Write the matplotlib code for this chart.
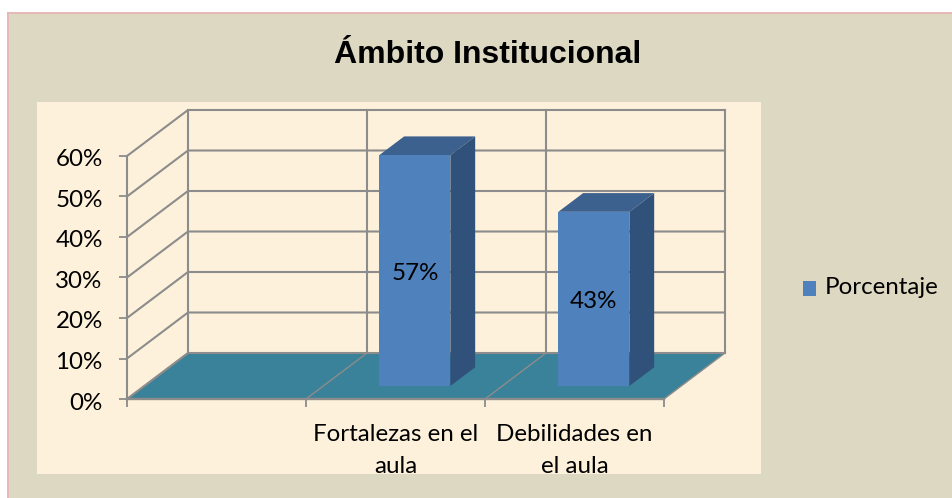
import matplotlib
matplotlib.use('Agg')
import matplotlib.pyplot as plt
from matplotlib.patches import Rectangle, Polygon
from matplotlib.transforms import ScaledTranslation

categories = ['', 'Fortalezas en el\naula', 'Debilidades en\nel aula']
values = [None, 57, 43]
value_labels = ['', '57%', '43%']
y_ticks = [0, 10, 20, 30, 40, 50, 60]
series_name = 'Porcentaje'
title = 'Ámbito Institucional'

W, H = 953, 498
BAR = '#4F81BD'
TOP = '#3C618F'
SIDE = '#30527A'
FLOOR = '#3A8299'
GRID = '#8C8C8C'
PANEL = '#DDD8C2'
EDGE = '#E6B9B8'
FONT = 17.4

plt.rcParams['font.family'] = ['Lato', 'DejaVu Sans']

fig = plt.figure(figsize=(W / 100, H / 100), dpi=100, facecolor='white')


def box(x0, y0, x1, y1):
    return [x0 / W, 1 - y1 / H, (x1 - x0) / W, (y1 - y0) / H]


def panel(x0, y0, x1, y1, color, z):
    fig.add_artist(Rectangle((x0 / W, 1 - y1 / H), (x1 - x0) / W, (y1 - y0) / H,
                             transform=fig.transFigure, facecolor=color, edgecolor='none', zorder=z))


# pink edge on the left and top, then the outer panel, then the cream picture
panel(7, 12, W, H, EDGE, -3)
panel(9, 14, W, H, PANEL, -2)
panel(37, 102, 761, 474, '#FDF1DB', -1)

# axes = front plane of the box
ax = fig.add_axes(box(127, 156, 664, 399))
ax.set_xlim(0, len(categories))
ax.set_ylim(0, 60)
ax.patch.set_alpha(0)
for s in ax.spines.values():
    s.set_visible(False)

# oblique offset of the full depth, in data units
DX = 61 / 179
DY = 46 / 243 * 60


def proj(x, y, t):
    return (x + DX * t, y + DY * t)


n = len(categories)
ax.add_patch(Polygon([proj(0, 0, 0), proj(n, 0, 0), proj(n, 0, 1), proj(0, 0, 1)],
                     facecolor=FLOOR, edgecolor='none', clip_on=False, zorder=1))

for v in y_ticks:
    xs, ys = zip(proj(0, v, 0), proj(0, v, 1), proj(n, v, 1))
    ax.plot(xs, ys, color=GRID, lw=1.5, clip_on=False, zorder=2)
for i in range(n + 1):
    xs, ys = zip(proj(i, 0, 1), proj(i, 60, 1))
    ax.plot(xs, ys, color=GRID, lw=1.5, clip_on=False, zorder=2)
    xs, ys = zip(proj(i, 0, 0), proj(i, 0, 1))
    ax.plot(xs, ys, color=GRID, lw=1.0, clip_on=False, zorder=2)
ax.plot([0, n], [0, 0], color=GRID, lw=1.7, clip_on=False, zorder=2)
ax.plot([0, 0], [0, 60], color=GRID, lw=1.5, clip_on=False, zorder=2)

ax.set_xticks(range(n + 1))
ax.set_xticklabels([])
ax.set_yticks(y_ticks)
ax.set_yticklabels([f'{v}%' for v in y_ticks], fontsize=FONT, color='black')
ax.tick_params(axis='both', color=GRID, width=1.3, length=5.5)
ax.tick_params(axis='y', pad=12)
# the percent labels sit a little under their ticks
shift = ScaledTranslation(0, -2 / 100, fig.dpi_scale_trans)
for lab in ax.get_yticklabels():
    lab.set_transform(lab.get_transform() + shift)

# bars
T0, T1 = 0.283, 0.69
LEFT, WIDTH = 0.313, 0.397
for i, v in enumerate(values):
    if v is None:
        continue
    l, r = i + LEFT, i + LEFT + WIDTH
    ax.add_patch(Polygon([proj(l, 0, T0), proj(r, 0, T0), proj(r, v, T0), proj(l, v, T0)],
                         facecolor=BAR, edgecolor='none', clip_on=False, zorder=4))
    ax.add_patch(Polygon([proj(l, v, T0), proj(r, v, T0), proj(r, v, T1), proj(l, v, T1)],
                         facecolor=TOP, edgecolor='none', clip_on=False, zorder=3))
    ax.add_patch(Polygon([proj(r, 0, T0), proj(r, 0, T1), proj(r, v, T1), proj(r, v, T0)],
                         facecolor=SIDE, edgecolor='none', clip_on=False, zorder=3))
    cx, cy = proj((l + r) / 2, v / 2, T0)
    ax.text(cx, cy - 0.7, value_labels[i], ha='center', va='center', fontsize=FONT, color='black', zorder=5)

for i, c in enumerate(categories):
    if c:
        ax.text(i + 0.5, -6.2, c, ha='center', va='top', fontsize=FONT, color='black',
                linespacing=1.62, clip_on=False)

fig.text(487.5 / W, 1 - 55 / H, title, ha='center', va='center', fontsize=23,
         fontweight='bold', family=['Liberation Sans', 'DejaVu Sans'], color='black')

# legend
panel(803, 281, 816, 296, BAR, 3)
fig.text(825 / W, 1 - 288 / H, series_name, ha='left', va='center', fontsize=FONT, color='black')

fig.savefig('out.png', dpi=100)
